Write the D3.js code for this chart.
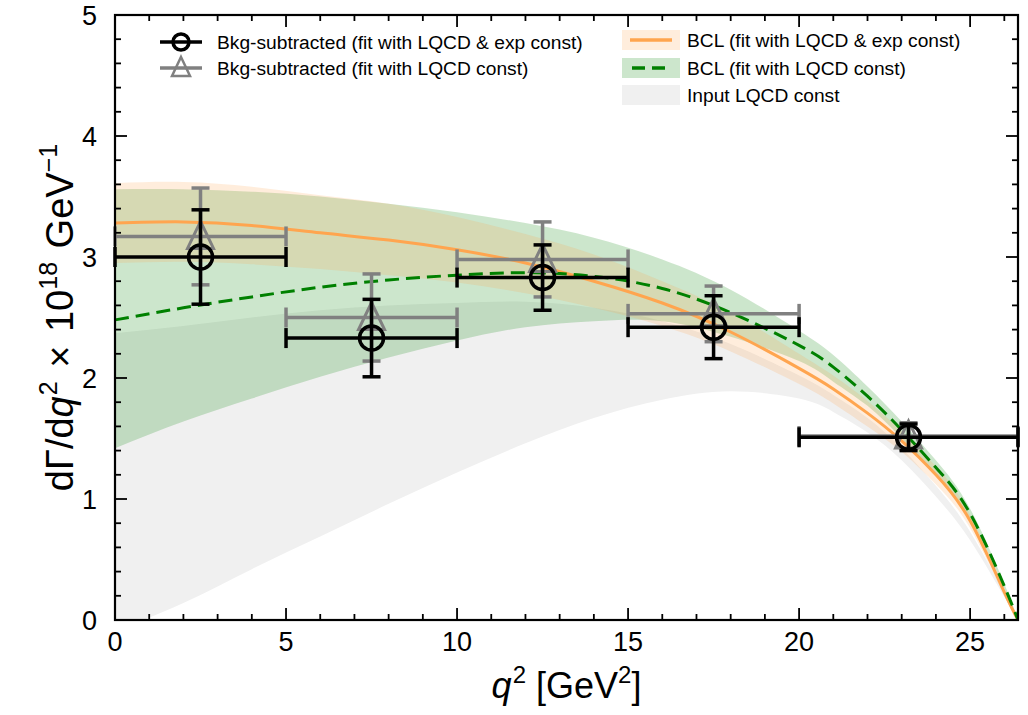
<!DOCTYPE html>
<html><head><meta charset="utf-8">
<script src="https://cdn.jsdelivr.net/npm/d3@7"></script>
<style>body{margin:0;background:#fff}text{font-family:"Liberation Sans",Arial,sans-serif}</style>
</head><body>
<svg id="chart" width="1028" height="715"></svg>
<script>
// q^2 bins of the measured spectrum
const binLo = [0, 5, 10, 15, 20];
const binHi = [5, 10, 15, 20, 26.4];
const binMid = [2.5, 7.5, 12.5, 17.5, 23.2];

// Background-subtracted dGamma/dq^2 (x 1e-18 GeV^-1)
const expConstVal = [3.00, 2.33, 2.83, 2.42, 1.51];
const expConstErr = [0.39, 0.32, 0.27, 0.26, 0.11];
const lqcdConstVal = [3.17, 2.50, 2.98, 2.53, 1.52];
const lqcdConstErr = [0.40, 0.36, 0.31, 0.23, 0.11];

// BCL curves sampled on a q^2 grid
const qGrid = [0, 2, 4, 6, 8, 10, 12, 14, 16, 18, 20, 21, 22, 23, 24, 25, 26, 26.4];
const bclExpMid = [3.28, 3.29, 3.26, 3.20, 3.14, 3.06, 2.95, 2.80, 2.62, 2.38, 2.08, 1.91, 1.71, 1.48, 1.20, 0.82, 0.23, 0];
const bclExpHi  = [3.61, 3.62, 3.58, 3.51, 3.44, 3.33, 3.19, 3.02, 2.80, 2.54, 2.20, 2.02, 1.81, 1.56, 1.27, 0.87, 0.25, 0];
const bclExpLo  = [2.95, 2.96, 2.94, 2.90, 2.85, 2.79, 2.70, 2.58, 2.43, 2.22, 1.95, 1.79, 1.60, 1.39, 1.12, 0.76, 0.20, 0];
const bclLqcdMid = [2.48, 2.58, 2.67, 2.75, 2.81, 2.85, 2.87, 2.84, 2.74, 2.54, 2.27, 2.09, 1.85, 1.57, 1.26, 0.88, 0.28, 0];
const bclLqcdHi  = [3.56, 3.56, 3.54, 3.50, 3.44, 3.37, 3.28, 3.16, 2.98, 2.73, 2.39, 2.19, 1.93, 1.64, 1.32, 0.92, 0.30, 0];
const bclLqcdLo  = [1.42, 1.64, 1.83, 2.01, 2.17, 2.31, 2.42, 2.47, 2.47, 2.34, 2.14, 1.97, 1.77, 1.50, 1.20, 0.84, 0.26, 0];
const inputHi = [2.37, 2.43, 2.50, 2.56, 2.60, 2.62, 2.63, 2.58, 2.47, 2.28, 2.02, 1.86, 1.67, 1.42, 1.11, 0.73, 0.22, 0];
const inputLo = [-0.09, 0.14, 0.42, 0.69, 0.96, 1.22, 1.46, 1.67, 1.82, 1.89, 1.83, 1.72, 1.55, 1.32, 1.02, 0.66, 0.19, 0];

const xTicks = [0, 5, 10, 15, 20, 25];
const yTicks = [0, 1, 2, 3, 4, 5];

const legendLeft = ["Bkg-subtracted (fit with LQCD & exp const)", "Bkg-subtracted (fit with LQCD const)"];
const legendRight = ["BCL (fit with LQCD & exp const)", "BCL (fit with LQCD const)", "Input LQCD const"];

const svg = d3.select("#chart");
const L = 115, R = 1018, T = 15, B = 620;
const x = d3.scaleLinear().domain([0, 26.4]).range([L, R]);
const y = d3.scaleLinear().domain([0, 5]).range([B, T]);

const C = {
  black: "#000000", gray: "#808080",
  orange: "#ffa54f", orangeFill: "rgba(255,165,80,0.2)",
  green: "#008000", greenFill: "rgba(0,128,0,0.2)",
  input: "#f0f0f0"
};

svg.append("defs").append("clipPath").attr("id", "plotclip")
  .append("rect").attr("x", L).attr("y", T).attr("width", R - L).attr("height", B - T);

const plot = svg.append("g").attr("clip-path", "url(#plotclip)");

const curve = d3.curveNatural;
const area = (lo, hi) => d3.area()
  .x((d, i) => x(qGrid[i])).y0((d, i) => y(lo[i])).y1((d, i) => y(hi[i]))
  .curve(curve)(qGrid);
const line = vals => d3.line()
  .x((d, i) => x(qGrid[i])).y((d, i) => y(vals[i]))
  .curve(curve)(qGrid);

// Uncertainty bands
plot.append("path").attr("d", area(inputLo, inputHi)).attr("fill", C.input);
plot.append("path").attr("d", area(bclLqcdLo, bclLqcdHi)).attr("fill", C.greenFill);
plot.append("path").attr("d", area(bclExpLo, bclExpHi)).attr("fill", C.orangeFill);

// Central curves
plot.append("path").attr("d", line(bclExpMid)).attr("fill", "none")
  .attr("stroke", C.orange).attr("stroke-width", 3);
plot.append("path").attr("d", line(bclLqcdMid)).attr("fill", "none")
  .attr("stroke", C.green).attr("stroke-width", 3).attr("stroke-dasharray", "14,7");

// Error bars
function drawPoints(vals, errs, color, marker) {
  const g = svg.append("g").attr("stroke", color).attr("stroke-width", 3.5).attr("fill", "none");
  vals.forEach((v, i) => {
    const cx = x(binMid[i]), cy = y(v);
    const x0 = x(binLo[i]), x1 = x(binHi[i]);
    const yt = y(v + errs[i]), yb = y(v - errs[i]);
    g.append("line").attr("x1", x0).attr("x2", x1).attr("y1", cy).attr("y2", cy);
    g.append("line").attr("x1", cx).attr("x2", cx).attr("y1", yt).attr("y2", yb);
    [x0, x1].forEach(xc => g.append("line").attr("x1", xc).attr("x2", xc).attr("y1", cy - 10).attr("y2", cy + 10));
    [yt, yb].forEach(yc => g.append("line").attr("x1", cx - 9).attr("x2", cx + 9).attr("y1", yc).attr("y2", yc));
    marker(g, cx, cy);
  });
}
const triangle = (g, cx, cy) => g.append("path")
  .attr("d", `M${cx},${cy - 15} L${cx + 13},${cy + 12} L${cx - 13},${cy + 12} Z`)
  .attr("stroke-width", 3).attr("stroke-linejoin", "miter");
const circle = (g, cx, cy) => g.append("circle").attr("cx", cx).attr("cy", cy).attr("r", 12);

drawPoints(lqcdConstVal, lqcdConstErr, C.gray, triangle);
drawPoints(expConstVal, expConstErr, C.black, circle);

// Frame and ticks on all four sides, pointing inwards
const axes = svg.append("g");
function ticks(values, len, side) {
  values.forEach(v => {
    let l;
    if (side === "b") l = [x(v), B, x(v), B - len];
    if (side === "t") l = [x(v), T, x(v), T + len];
    if (side === "l") l = [L, y(v), L + len, y(v)];
    if (side === "r") l = [R, y(v), R - len, y(v)];
    axes.append("line").attr("x1", l[0]).attr("y1", l[1]).attr("x2", l[2]).attr("y2", l[3])
      .attr("stroke", "#000").attr("stroke-width", 1.8);
  });
}
const xMinor = d3.range(0, 27).filter(v => v % 5 !== 0);
const yMinor = d3.range(0, 25).map(v => v * 0.2).filter((v, i) => i % 5 !== 0);
["b", "t"].forEach(s => { ticks(xTicks, 12, s); ticks(xMinor, 6, s); });
["l", "r"].forEach(s => { ticks(yTicks, 12, s); ticks(yMinor, 6, s); });
axes.append("rect").attr("x", L).attr("y", T).attr("width", R - L).attr("height", B - T)
  .attr("fill", "none").attr("stroke", "#000").attr("stroke-width", 2.2);

// Tick labels
svg.append("g").selectAll("text").data(xTicks).join("text")
  .attr("x", d => x(d)).attr("y", 651).attr("text-anchor", "middle")
  .attr("font-size", 27).text(d => d);
svg.append("g").selectAll("text").data(yTicks).join("text")
  .attr("x", 97).attr("y", d => y(d) + 10).attr("text-anchor", "end")
  .attr("font-size", 27).text(d => d);

// Axis titles
const xt = svg.append("text").attr("x", (L + R) / 2).attr("y", 698)
  .attr("text-anchor", "middle").attr("font-size", 36);
xt.append("tspan").attr("font-style", "italic").text("q");
xt.append("tspan").attr("font-size", 24).attr("dy", -15).attr("dx", 1).text("2");
xt.append("tspan").attr("dy", 15).text(" [GeV");
xt.append("tspan").attr("font-size", 24).attr("dy", -15).text("2");
xt.append("tspan").attr("dy", 15).text("]");

const yt = svg.append("text").attr("transform", `translate(73,${(T + B) / 2}) rotate(-90)`)
  .attr("text-anchor", "middle").attr("font-size", 38);
yt.append("tspan").text("dΓ/d");
yt.append("tspan").attr("font-style", "italic").text("q");
yt.append("tspan").attr("font-size", 25).attr("dy", -16).attr("dx", 1).text("2");
yt.append("tspan").attr("dy", 16).attr("dx", 3).text(" × ");
yt.append("tspan").attr("dx", 3).text("10");
yt.append("tspan").attr("font-size", 25).attr("dy", -16).text("18");
yt.append("tspan").attr("dy", 16).attr("dx", 3).text(" GeV");
yt.append("tspan").attr("font-size", 25).attr("dy", -16).text("−1");

// Legend
const lg = svg.append("g");
const leftRows = [42, 68];
const lStyles = [{ c: C.black, m: "circle" }, { c: C.gray, m: "tri" }];
leftRows.forEach((ry, i) => {
  const s = lStyles[i];
  const g = lg.append("g").attr("stroke", s.c).attr("stroke-width", 3.5).attr("fill", "none");
  g.append("line").attr("x1", 160).attr("x2", 202).attr("y1", ry).attr("y2", ry);
  if (s.m === "circle") g.append("circle").attr("cx", 181).attr("cy", ry).attr("r", 8);
  else g.append("path").attr("d", `M181,${ry - 11} L190,${ry + 8} L172,${ry + 8} Z`).attr("stroke-width", 2.5);
  lg.append("text").attr("x", 217).attr("y", ry + 7).attr("font-size", 19.2).text(legendLeft[i]);
});
const rightRows = [40, 68, 95];
const fills = [C.orangeFill, C.greenFill, C.input];
rightRows.forEach((ry, i) => {
  lg.append("rect").attr("x", 622).attr("y", ry - 10).attr("width", 58).attr("height", 20).attr("fill", fills[i]);
  if (i === 0) lg.append("line").attr("x1", 630).attr("x2", 672).attr("y1", ry).attr("y2", ry)
    .attr("stroke", C.orange).attr("stroke-width", 3.5);
  if (i === 1) lg.append("line").attr("x1", 632).attr("x2", 672).attr("y1", ry).attr("y2", ry)
    .attr("stroke", C.green).attr("stroke-width", 3.5).attr("stroke-dasharray", "13,7");
  lg.append("text").attr("x", 687).attr("y", ry + 7).attr("font-size", 19.2).text(legendRight[i]);
});
</script>
</body></html>
